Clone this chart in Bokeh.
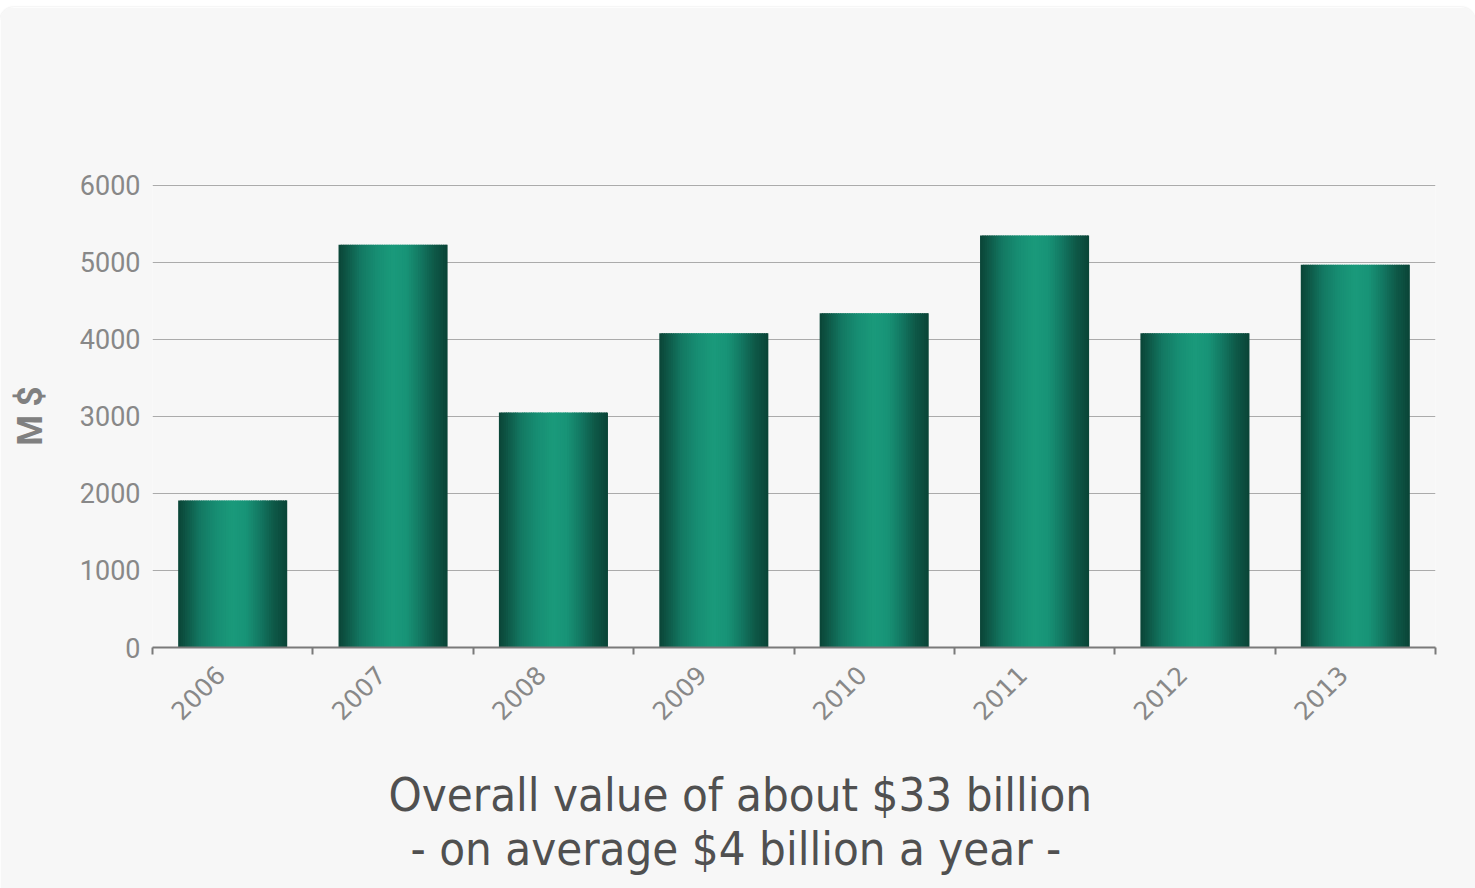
import math
from bokeh.plotting import figure
from bokeh.models import ColumnDataSource, Range1d, FixedTicker, Title
from bokeh.embed import file_html
from bokeh.resources import INLINE

# ---------------- data ----------------
years = ["2006", "2007", "2008", "2009", "2010", "2011", "2012", "2013"]
values = [1910, 5230, 3050, 4080, 4340, 5350, 4080, 4970]
y_ticks = [0, 1000, 2000, 3000, 4000, 5000, 6000]
y_label = "M $"
caption_line1 = "Overall value of about $33 billion"
caption_line2 = "- on average $4 billion a year -"

# ---------------- style ----------------
BG = "#f7f7f7"
GRID = "#ababab"
AXIS = "#7a7a7a"
TICK_TEXT = "#888888"
CAPTION = "#505050"
BAR_W = 0.68
LABEL_SHIFT = 0.075
N_STRIPS = 48
STOPS = [
    (0.00, (10, 68, 55)),
    (0.08, (14, 88, 71)),
    (0.20, (19, 120, 98)),
    (0.35, (23, 142, 115)),
    (0.50, (26, 154, 123)),
    (0.62, (24, 148, 119)),
    (0.75, (19, 120, 98)),
    (0.88, (14, 88, 71)),
    (1.00, (10, 68, 55)),
]


def shade(t):
    for (t0, c0), (t1, c1) in zip(STOPS[:-1], STOPS[1:]):
        if t0 <= t <= t1:
            f = (t - t0) / (t1 - t0)
            c = [round(a + (b - a) * f) for a, b in zip(c0, c1)]
            return "#%02x%02x%02x" % tuple(c)
    return "#%02x%02x%02x" % STOPS[-1][1]


n = len(years)
lefts, rights, tops, cols = [], [], [], []
sw = BAR_W / N_STRIPS
for i, v in enumerate(values):
    x0 = i + 0.5 - BAR_W / 2
    for k in range(N_STRIPS):
        t = (k + 0.5) / N_STRIPS
        lefts.append(x0 + k * sw)
        rights.append(min(x0 + (k + 1.6) * sw, x0 + BAR_W))
        tops.append(v)
        cols.append(shade(t))
src = ColumnDataSource(dict(left=lefts, right=rights, top=tops, color=cols))

p = figure(
    width=1475, height=881,
    x_range=Range1d(0, n), y_range=Range1d(0, y_ticks[-1] * 1.002),
    output_backend="svg", toolbar_location=None,
    min_border_left=152, min_border_right=40,
    min_border_top=177, min_border_bottom=241,
    background_fill_color=BG, border_fill_color=BG,
    outline_line_color=None,
)
p.styles = {"margin-top": "7px", "border-radius": "14px 14px 0 0",
            "overflow": "hidden", "box-shadow": "0 0 2px #dddddd"}

p.quad(left="left", right="right", top="top", bottom=0,
       fill_color="color", line_color=None, source=src)

# y axis
p.yaxis.ticker = FixedTicker(ticks=y_ticks)
p.yaxis.axis_line_color = None
p.yaxis.major_tick_line_color = None
p.yaxis.minor_tick_line_color = None
p.yaxis.major_label_standoff = 6
p.yaxis.major_label_text_font = "Roboto"
p.yaxis.major_label_text_font_size = "27px"
p.yaxis.major_label_text_color = TICK_TEXT
p.yaxis.axis_label = y_label
p.yaxis.axis_label_text_font = "Roboto"
p.yaxis.axis_label_text_font_style = "bold"
p.yaxis.axis_label_text_font_size = "35px"
p.yaxis.axis_label_text_color = "#808080"
p.yaxis.axis_label_standoff = 26
p.ygrid.ticker = FixedTicker(ticks=y_ticks)
p.ygrid.grid_line_color = GRID
p.ygrid.grid_line_width = 1
p.xgrid.grid_line_color = None

# x axis: labels near centres, tick marks at category boundaries
centers = [i + 0.5 - LABEL_SHIFT for i in range(n)]
bounds = [float(i) for i in range(n + 1)]
p.xaxis.ticker = FixedTicker(ticks=centers, minor_ticks=bounds)
p.xaxis.major_label_overrides = {c: y for c, y in zip(centers, years)}
p.xaxis.major_tick_line_color = None
p.xaxis.major_tick_out = 0
p.xaxis.major_tick_in = 0
p.xaxis.minor_tick_line_color = AXIS
p.xaxis.minor_tick_line_width = 2
p.xaxis.minor_tick_out = 7
p.xaxis.minor_tick_in = 0
p.xaxis.axis_line_color = AXIS
p.xaxis.axis_line_width = 2
p.xaxis.major_label_orientation = math.pi / 4
p.xaxis.major_label_standoff = 16
p.xaxis.major_label_text_font = "DejaVu Sans"
p.xaxis.major_label_text_font_size = "25px"
p.xaxis.major_label_text_color = TICK_TEXT

# captions below the chart
for txt, off, so, va in ((caption_line1, 236, 66, "bottom"),
                         (caption_line2, 258, -68, "top")):
    p.add_layout(Title(
        text=txt, align="left", offset=off, standoff=so, vertical_align=va,
        text_font="DejaVu Sans Condensed", text_font_size="47px",
        text_font_style="normal", text_color=CAPTION,
    ), "below")

open("out.html", "w").write(file_html(p, INLINE))
